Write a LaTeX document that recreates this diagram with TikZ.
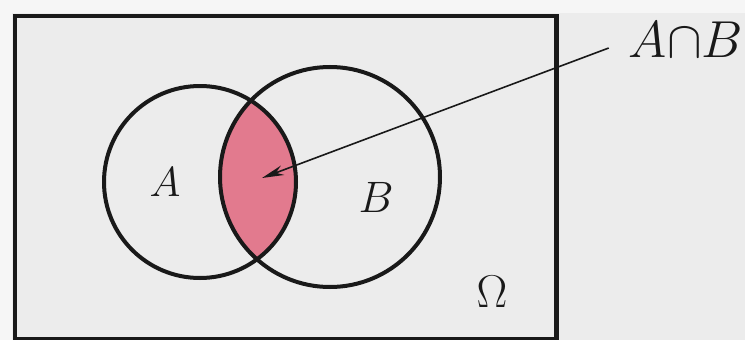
\RequirePackage{fix-cm}
\documentclass[tikz,border=0pt]{standalone}
\usetikzlibrary{arrows.meta}
\definecolor{bg}{RGB}{236,236,236}
\definecolor{edge}{RGB}{246,246,246}
\definecolor{lens}{RGB}{226,122,142}
\definecolor{ink}{RGB}{25,25,25}
\tikzset{
  setc/.style={circle,draw=ink,line width=4pt,inner sep=0pt},
  lbl/.style={inner sep=0pt,text=ink},
}
\begin{document}
\begin{tikzpicture}[x=1pt,y=-1pt]
\useasboundingbox (0,0) rectangle (745,340);
\fill[edge] (0,0) rectangle (745,340);
\fill[bg] (12,13) rectangle (745,340);
\node[draw=ink,line width=4.5pt,minimum width=541.5pt,minimum height=323.5pt,inner sep=0pt,anchor=north west,fill=bg] (omega) at (12.5,13.5) {};
% intersection fill
\begin{scope}
  \clip (200,182) circle (96);
  \fill[lens] (330,177) circle (110);
\end{scope}
\node[setc,minimum size=192pt] (A) at (200,182) {};
\node[setc,minimum size=220pt] (B) at (330,177) {};
\node[lbl,font=\fontsize{42}{46}\selectfont] (la) at (165,182) {$A$};
\node[lbl,font=\fontsize{44}{48}\selectfont] (lb) at (376,197) {$B$};
\node[lbl,font=\fontsize{46}{50}\selectfont] (lo) at (492,292) {$\Omega$};
\node[lbl,font=\fontsize{52}{56}\selectfont] (lab) at (686,40) {$A{\cap}B$};
\coordinate (tip) at (262,178);
\draw[ink,line width=1.6pt,-{Stealth[length=22pt,width=10pt]}] (lab.west) ++(-20,8) -- (tip);
\end{tikzpicture}
\end{document}
